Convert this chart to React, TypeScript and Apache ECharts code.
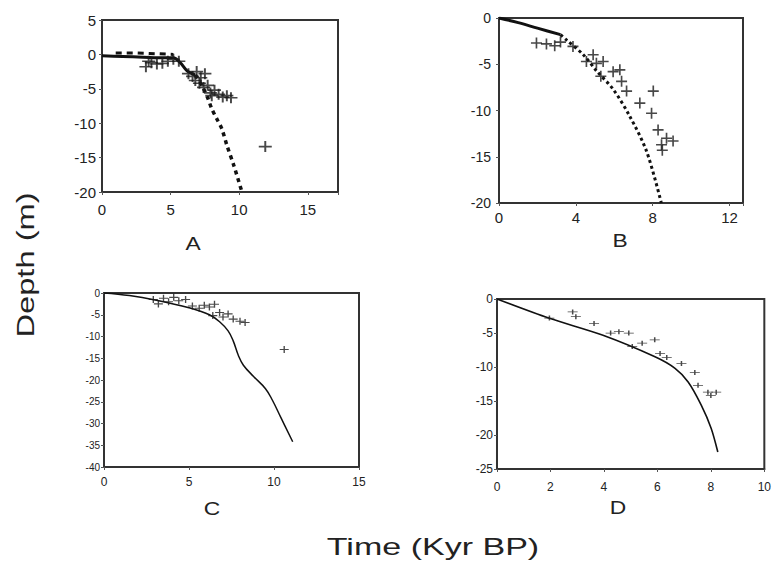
import React, { useEffect, useRef } from "react";
import * as echarts from "echarts";

// ---------- Panel A ----------
const solidA: number[][] = [[0, -0.2], [1.5, -0.3], [3, -0.4], [4.5, -0.5], [5.2, -0.5], [5.7, -1.2], [6.2, -2.4], [6.8, -3.0]];
const dashA: number[][] = [[1.0, 0.2], [2.5, 0.2], [4.0, 0.1], [5.2, 0.0]];
const dotA: number[][] = [[6.8, -3.0], [7.3, -4.6], [7.7, -6.3], [8.0, -7.9], [8.4, -9.5], [8.73, -10.8], [9.1, -13.2], [9.6, -16.1], [10.2, -20]];
const pointsA: number[][] = [
  [3.2, -1.8], [3.4, -1.0], [3.6, -1.2], [4.0, -1.4], [4.4, -1.3], [4.8, -1.0], [5.2, -0.7], [5.6, -1.0],
  [6.3, -2.8], [6.6, -3.2], [6.9, -2.5], [7.2, -3.4], [7.5, -2.8], [6.8, -3.8], [7.1, -4.2], [7.4, -4.8],
  [7.7, -4.5], [7.9, -5.6], [8.2, -5.2], [8.5, -5.8], [8.8, -6.2], [9.1, -6.0], [9.4, -6.3], [8.0, -6.0],
  [11.9, -13.4],
];

// ---------- Panel B ----------
const solidB: number[][] = [[0, 0], [1, -0.5], [2, -1.1], [3.2, -1.8]];
const dotB: number[][] = [[3.2, -1.8], [3.5, -2.35], [4.4, -4.0], [5.07, -5.7], [5.94, -7.7], [6.8, -10.6], [7.68, -14.4], [8.45, -20]];
const pointsB: number[][] = [
  [1.95, -2.7], [2.47, -2.8], [2.9, -3.0], [3.2, -2.6], [3.85, -3.07], [4.55, -4.7], [4.9, -3.97], [5.07, -4.9],
  [5.42, -4.7], [5.3, -6.3], [5.94, -5.8], [6.29, -5.6], [6.38, -6.85], [6.64, -7.9], [7.33, -9.2], [7.94, -10.3],
  [8.03, -7.9], [8.28, -12.1], [8.72, -13.0], [8.46, -13.7], [9.06, -13.3], [8.5, -14.3],
];

// ---------- Panel C ----------
const lineC: number[][] = [[0, 0], [1.5, -0.6], [3, -1.6], [5, -3.4], [6.2, -5.0], [6.8, -6.6], [7.3, -8.7], [7.6, -11.0], [7.9, -14.3], [8.2, -16.6], [8.8, -19.2], [9.5, -22.0], [9.9, -24.6], [10.4, -28.6], [11.1, -34.2]];
const pointsC: number[][] = [
  [2.9, -1.5], [3.2, -2.5], [3.5, -1.2], [3.8, -2.0], [4.1, -1.0], [4.4, -1.8], [4.8, -1.5], [5.2, -3.0],
  [5.6, -3.5], [5.9, -2.8], [6.2, -3.2], [6.5, -2.6], [6.8, -4.5], [6.4, -5.2], [7.0, -5.5], [7.3, -4.8],
  [7.6, -6.0], [8.0, -6.5], [8.3, -6.8], [10.6, -13.0],
];

// ---------- Panel D ----------
const lineD: number[][] = [[0, 0], [1.96, -2.84], [3.94, -5.3], [5.91, -8.5], [6.66, -10.2], [7.15, -12.2], [7.64, -15.6], [8.01, -19], [8.26, -22.5]];
const pointsD: number[][] = [
  [1.96, -2.8], [2.83, -1.9], [2.95, -2.6], [3.63, -3.6], [4.25, -5.0], [4.56, -4.8], [4.93, -5.0], [5.06, -7.0],
  [5.43, -6.5], [5.9, -6.0], [6.1, -8.0], [6.35, -8.6], [6.9, -9.5], [7.4, -10.8], [7.52, -12.7], [7.89, -13.7],
  [8.2, -13.7], [8.0, -14.2],
];

const panelLetters = ["A", "B", "C", "D"];
const yTitle = "Depth (m)";
const xTitle = "Time (Kyr BP)";

const PLUS = "path://M0,8.5H20V11.5H0Z M8.5,0H11.5V20H8.5Z";
const FONT = "Liberation Sans, Arial, sans-serif";
const INK = "#222";

function makeAxes(i: number, xmin: number, xmax: number, xint: number, ymin: number, ymax: number, yint: number, fs: number, yfs: number, xMargin: number, yMargin: number) {
  const xAxis = {
    type: "value", gridIndex: i, min: xmin, max: xmax, interval: xint,
    splitLine: { show: false },
    axisLine: { show: true, onZero: false, lineStyle: { color: "#333", width: 2 } },
    axisTick: { show: true, inside: false, length: 3, lineStyle: { color: "#555" } },
    axisLabel: {
      color: INK, fontSize: fs, fontFamily: FONT, margin: xMargin,
      formatter: (v: number) => (Math.abs(v / xint - Math.round(v / xint)) < 1e-6 ? String(v) : ""),
    },
  };
  const yAxis = {
    type: "value", gridIndex: i, min: ymin, max: ymax, interval: yint,
    splitLine: { show: false },
    axisLine: { show: true, onZero: false, lineStyle: { color: "#333", width: 2 } },
    axisTick: { show: true, inside: false, length: 3, lineStyle: { color: "#555" } },
    axisLabel: { color: INK, fontSize: yfs, fontFamily: FONT, margin: yMargin },
  };
  return { xAxis, yAxis };
}

export default function App() {
  const ref = useRef<HTMLDivElement>(null);
  useEffect(() => {
    if (!ref.current) return;
    const chart = echarts.init(ref.current, null, { renderer: "svg" });
    const axA = makeAxes(0, 0, 17.2, 5, -20, 5, 5, 15, 15, 10, 6);
    const axB = makeAxes(1, 0, 12.7, 4, -20, 0, 5, 15, 14, 7, 8);
    const axC = makeAxes(2, 0, 15, 5, -40, 0, 5, 12, 10, 9, 4);
    const axD = makeAxes(3, 0, 10, 2, -25, 0, 5, 12, 12, 12, 4);
    const gridBase = { show: true, borderColor: "#333", borderWidth: 2, backgroundColor: "#fff" };
    const lineBase = (xi: number, data: number[][], width: number, type: any, smooth: number | boolean = 0.3) => ({
      type: "line", xAxisIndex: xi, yAxisIndex: xi, data, showSymbol: false, symbol: "none",
      smooth, lineStyle: { color: "#111", width, type }, z: 3,
    });
    const scatBase = (xi: number, data: number[][], size: number[]) => ({
      type: "scatter", xAxisIndex: xi, yAxisIndex: xi, data, symbol: PLUS, symbolSize: size,
      itemStyle: { color: "#1a1a1a" }, z: 4,
    });
    const textEl = (text: string, x: number, y: number, size: number, scaleX: number, rotation = 0) => ({
      type: "text", x, y, rotation, scaleX, scaleY: 1,
      style: { text, font: `${size}px ${FONT}`, fill: INK, textAlign: "center", textVerticalAlign: "middle" },
    });
    chart.setOption({
      animation: false,
      backgroundColor: "#fff",
      grid: [
        { ...gridBase, left: 102, top: 20, width: 236, height: 172 },
        { ...gridBase, left: 499, top: 18, width: 244, height: 185 },
        { ...gridBase, left: 104, top: 293, width: 255, height: 174 },
        { ...gridBase, left: 497, top: 299, width: 270, height: 170 },
      ],
      xAxis: [axA.xAxis, axB.xAxis, axC.xAxis, axD.xAxis],
      yAxis: [axA.yAxis, axB.yAxis, axC.yAxis, axD.yAxis],
      series: [
        lineBase(0, solidA, 3, "solid"),
        lineBase(0, dashA, 3, [6, 5], false),
        lineBase(0, dotA, 3.5, [4, 4]),
        scatBase(0, pointsA, [13, 11]),
        lineBase(1, solidB, 3, "solid"),
        lineBase(1, dotB, 3, [3, 3]),
        scatBase(1, pointsB, [11, 11]),
        lineBase(2, lineC, 1.5, "solid", 0.4),
        scatBase(2, pointsC, [9, 7]),
        lineBase(3, lineD, 1.6, "solid"),
        scatBase(3, pointsD, [10, 5]),
      ],
      graphic: [
        textEl(yTitle, 26, 265, 23, 1.42, Math.PI / 2),
        textEl(xTitle, 433, 547, 23, 1.48),
        textEl(panelLetters[0], 193, 243, 19, 1.2),
        textEl(panelLetters[1], 620, 240, 19, 1.2),
        textEl(panelLetters[2], 212, 508, 19, 1.2),
        textEl(panelLetters[3], 618, 507, 19, 1.2),
      ],
    });
    return () => chart.dispose();
  }, []);
  return <div ref={ref} style={{ position: "fixed", left: 0, top: 0, width: 774, height: 564, background: "#fff" }} />;
}
